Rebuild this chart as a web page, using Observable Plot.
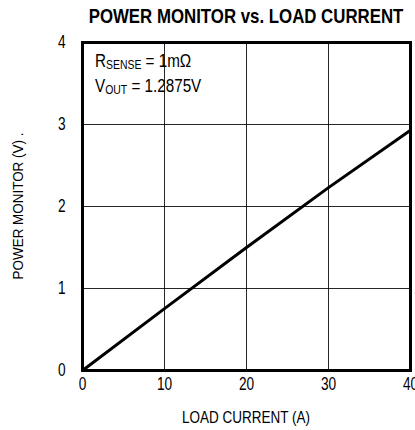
<!DOCTYPE html>
<html>
<head>
<meta charset="utf-8">
<script src="https://cdn.jsdelivr.net/npm/d3@7"></script>
<script src="https://cdn.jsdelivr.net/npm/@observablehq/plot@0.6"></script>
<style>
  html, body { margin: 0; padding: 0; background: #fff; }
  svg { display: block; }
</style>
</head>
<body>
<div id="chart"></div>
<script>
const title = "POWER MONITOR vs. LOAD CURRENT";
const xLabel = "LOAD CURRENT (A)";
const yLabel = "POWER MONITOR (V) .";
const loadCurrent = [0, 10, 20, 30, 40];
const powerMonitor = [0, 0.755, 1.5, 2.23, 2.93];
const xTicks = [0, 10, 20, 30, 40];
const yTicks = [0, 1, 2, 3, 4];
const notes = [["R", "SENSE", " = 1m\u03A9"], ["V", "OUT", " = 1.2875V"]];

const data = loadCurrent.map((x, i) => ({x, y: powerMonitor[i]}));
const font = "'Liberation Sans', Arial, sans-serif";

const plot = Plot.plot({
  width: 415,
  height: 430,
  marginLeft: 82,
  marginRight: 5,
  marginTop: 42,
  marginBottom: 60,
  style: {fontFamily: font, fontSize: "18px", color: "#000", background: "#fff", overflow: "hidden"},
  x: {domain: [0, 40], ticks: xTicks, tickFormat: "d", label: null},
  y: {domain: [0, 4], ticks: yTicks, tickFormat: "d", label: null},
  marks: [
    Plot.gridX(xTicks, {stroke: "#000", strokeOpacity: 0.85, strokeWidth: 1}),
    Plot.gridY(yTicks, {stroke: "#000", strokeOpacity: 0.85, strokeWidth: 1}),
    Plot.axisX(xTicks, {tickSize: 0, tickPadding: 7, fontSize: 18, tickFormat: "d", label: null}),
    Plot.axisY(yTicks, {tickSize: 0, tickPadding: 17, fontSize: 18, tickFormat: "d", label: null}),
    Plot.line(data, {x: "x", y: "y", stroke: "#000", strokeWidth: 3}),
    Plot.frame({stroke: "#000", strokeWidth: 3})
  ]
});
document.getElementById("chart").appendChild(plot);

const svg = d3.select(plot);
const sx = plot.scale("x"), sy = plot.scale("y");
const cx = (sx.apply(0) + sx.apply(40)) / 2;
const cy = (sy.apply(0) + sy.apply(4)) / 2;

// condense tick labels (narrow face look)
svg.selectAll('g[aria-label$="tick label"] text').each(function () {
  const tr = this.getAttribute("transform") || "";
  this.setAttribute("transform", tr + " scale(0.76,1)");
});

// helper: add text at (x,y) condensed horizontally to a target width
function addText(x, y, str, opts, targetWidth, rotate) {
  const t = svg.append("text")
    .attr("text-anchor", opts.anchor || "middle")
    .attr("font-family", font)
    .attr("font-size", opts.size)
    .attr("font-weight", opts.weight || "normal")
    .attr("fill", "#000")
    .text(str);
  const w = t.node().getComputedTextLength();
  const k = targetWidth ? targetWidth / w : 1;
  t.attr("transform", `translate(${x},${y})${rotate ? " rotate(-90)" : ""} scale(${k},1)`);
  return w * k;
}

// title centred over the plot area
addText(cx, 23, title, {size: 20, weight: "bold"}, 315);
// x label
addText(cx, 423, xLabel, {size: 17}, 128);
// y label
addText(23, cy, yLabel, {size: 14}, 147, true);

// annotation with subscripts, built from separate runs
const k = 0.87;
notes.forEach((a, i) => {
  let x = sx.apply(0) + 13;
  const y = sy.apply(4) + 25 + i * 25;
  const parts = [[a[0], 17.5, 0], [a[1], 12, 1.5], [a[2], 17.5, 0]];
  parts.forEach(([s, size, dy]) => {
    const t = svg.append("text")
      .attr("text-anchor", "start")
      .attr("font-family", font)
      .attr("font-size", size)
      .attr("fill", "#000")
      .style("white-space", "pre")
      .attr("xml:space", "preserve")
      .text(s);
    const w = t.node().getComputedTextLength() * k;
    t.attr("transform", `translate(${x},${y + dy}) scale(${k},1)`);
    x += w;
  });
});
</script>
</body>
</html>
